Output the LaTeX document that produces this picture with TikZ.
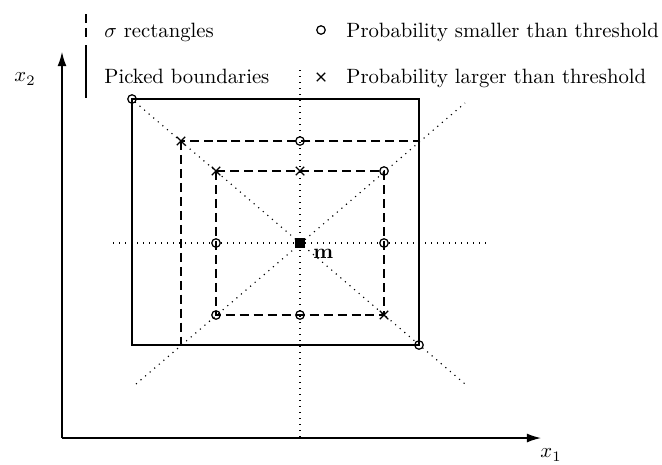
\documentclass[tikz,border=0pt]{standalone}
\usetikzlibrary{arrows.meta,shapes.misc}
\begin{document}
\begin{tikzpicture}[x=0.483pt,y=-0.483pt,
  bound/.style={line width=0.5pt},
  sigrect/.style={line width=0.5pt, dash pattern=on 4.35pt off 2.4pt},
  guide/.style={line width=0.55pt, dash pattern=on 0.55pt off 2.35pt},
  axis/.style={line width=0.63pt, -{Latex[length=6.8pt,width=4.3pt]}},
  lo/.style={circle, draw, line width=0.6pt, minimum size=4.1pt, inner sep=0pt},
  hi/.style={cross out, draw, line width=0.6pt, minimum size=3.5pt, inner sep=0pt},
  mean/.style={fill, minimum size=4.8pt, inner sep=0pt},
  lbl/.style={inner sep=0pt, anchor=base west}]
\useasboundingbox (0,0) rectangle (662,464);

% axes
\coordinate (O) at (62,438);
\coordinate (X) at (541,438);
\coordinate (Y) at (62,52);
\draw[axis] (O) -- (X);
\draw[axis] (O) -- (Y);
\node (x1) at (551,455) {$x_1$};
\node (x2) at (25,79) {$x_2$};

% mean and guide lines
\coordinate (m) at (300,243);
\coordinate (gL) at (113,243);
\coordinate (gR) at (487,243);
\coordinate (gT) at (300,70);
\coordinate (gB) at (300,438);
\coordinate (d1a) at (135,102);
\coordinate (d1b) at (465,384);
\coordinate (d2a) at (136,384);
\coordinate (d2b) at (465,103);
\draw[guide] (gL) -- (gR);
\draw[guide] (gT) -- (gB);
\draw[guide] (d1a) -- (d1b);
\draw[guide] (d2a) -- (d2b);

% sigma rectangles
\coordinate (i1) at (216,171);
\coordinate (i2) at (384,315);
\coordinate (o1) at (181,141);
\coordinate (o2) at (419,345);
\draw[sigrect] (i1) rectangle (i2);
\draw[sigrect] (o1) rectangle (o2);

% picked boundaries
\coordinate (b1) at (132,99);
\coordinate (b2) at (419,345);
\draw[bound] (b1) rectangle (b2);

% markers
\node[lo] (c1) at (132,99) {};
\node[lo] (c2) at (300,141) {};
\node[lo] (c3) at (384,171) {};
\node[lo] (c4) at (216,243) {};
\node[lo] (c5) at (384,243) {};
\node[lo] (c6) at (216,315) {};
\node[lo] (c7) at (300,315) {};
\node[lo] (c8) at (419,345) {};
\node[hi] (k1) at (181,141) {};
\node[hi] (k2) at (216,171) {};
\node[hi] (k3) at (300,171) {};
\node[hi] (k4) at (384,315) {};
\node[mean] (mm) at (m) {};
\node[lbl] (mlabel) at (313,258) {$\mathbf{m}$};

% legend
\coordinate (ls1) at (86,14);
\coordinate (ls2) at (86,41);
\coordinate (lb1) at (86,45);
\coordinate (lb2) at (86,98);
\draw[sigrect] (ls1) -- (ls2);
\draw[bound] (lb1) -- (lb2);
\node[lbl] (t1) at (104,37) {$\sigma$ rectangles};
\node[lbl] (t2) at (104,83) {Picked boundaries};
\node[lo] (lc) at (321,30) {};
\node[hi] (lk) at (321,77) {};
\node[lbl] (t3) at (346,37) {Probability smaller than threshold};
\node[lbl] (t4) at (346,83) {Probability larger than threshold};
\end{tikzpicture}
\end{document}
